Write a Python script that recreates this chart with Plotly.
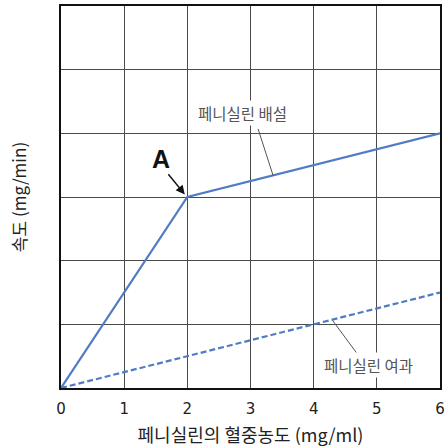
import plotly.graph_objects as go

# Data
excretion_x = [0, 2, 6]
excretion_y = [0, 3, 4]
filtration_x = [0, 6]
filtration_y = [0, 1.5]
x_ticks = [0, 1, 2, 3, 4, 5, 6]
y_grid = [0, 1, 2, 3, 4, 5, 6]

blue = "#4f7cc4"
kfont = "Noto Sans CJK KR"

fig = go.Figure()
fig.add_trace(go.Scatter(x=excretion_x, y=excretion_y, mode="lines",
                         line=dict(color=blue, width=2.2), showlegend=False))
fig.add_trace(go.Scatter(x=filtration_x, y=filtration_y, mode="lines",
                         line=dict(color=blue, width=2.2, dash="6px,3px"), showlegend=False))

# leader lines
fig.add_shape(type="line", x0=3.12, y0=4.07, x1=3.36, y1=3.33,
              line=dict(color="#555555", width=1))
fig.add_shape(type="line", x0=4.68, y0=0.55, x1=4.30, y1=1.06,
              line=dict(color="#555555", width=1))

fig.add_annotation(x=2.87, y=4.32, text="페니실린 배설", showarrow=False,
                   font=dict(family=kfont, size=15.5, color="#555555"),
                   bgcolor="white")
fig.add_annotation(x=4.87, y=0.36, text="페니실린 여과", showarrow=False,
                   font=dict(family=kfont, size=15.5, color="#555555"),
                   bgcolor="white")
fig.add_annotation(x=1.96, y=3.04, ax=1.68, ay=3.38, axref="x", ayref="y",
                   text="", showarrow=True, arrowhead=2, arrowsize=1.2,
                   arrowwidth=1.5, arrowcolor="#111111")
fig.add_annotation(x=1.59, y=3.6, text="<b>A</b>", showarrow=False,
                   font=dict(family="Liberation Sans", size=25, color="#111111"))

fig.update_xaxes(range=[0, 6], tickvals=x_ticks, ticktext=[str(v) for v in x_ticks],
                 showgrid=True, gridcolor="#4a4a4a", gridwidth=1,
                 showline=True, linecolor="#111111", linewidth=2, mirror=True,
                 zeroline=False, ticks="", ticklabelstandoff=6, automargin=False,
                 tickfont=dict(family="DejaVu Sans", size=15, color="#222222"),
                 title=dict(text="페니실린의 혈중농도 (mg/ml)", standoff=12,
                            font=dict(family=kfont, size=18, color="#222222")))
fig.update_yaxes(range=[0, 6], tickvals=y_grid, showticklabels=False,
                 showgrid=True, gridcolor="#4a4a4a", gridwidth=1,
                 showline=True, linecolor="#111111", linewidth=2, mirror=True,
                 zeroline=False, ticks="", automargin=False,
                 title=dict(text="속도 (mg/min)", standoff=28,
                            font=dict(family=kfont, size=17, color="#222222")))

fig.update_layout(width=445, height=447, plot_bgcolor="white", paper_bgcolor="white",
                  margin=dict(l=61, r=5, t=6, b=59))

fig.write_html("out.html", config={"displayModeBar": False},
               post_script="document.body.style.margin='0px';")
